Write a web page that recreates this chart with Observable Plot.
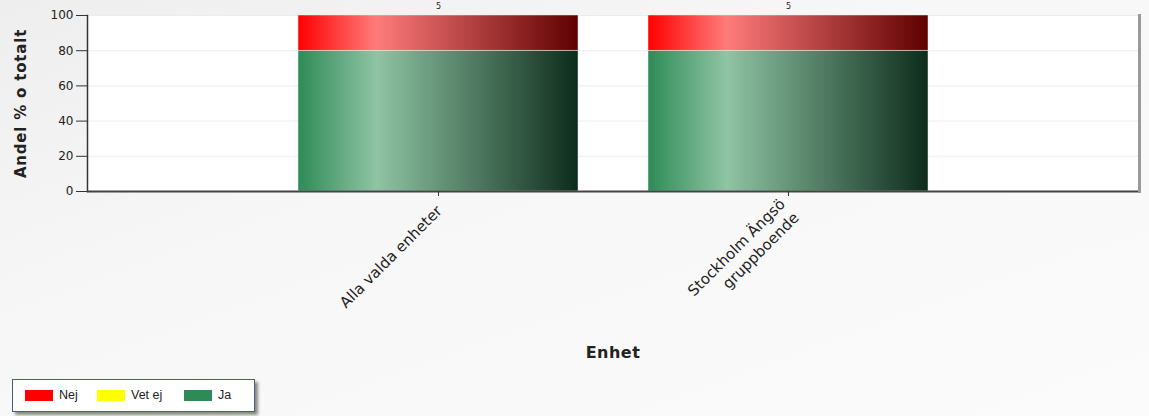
<!DOCTYPE html>
<html><head><meta charset="utf-8">
<script src="https://cdn.jsdelivr.net/npm/d3@7"></script>
<script src="https://cdn.jsdelivr.net/npm/@observablehq/plot@0.6"></script>
<style>
html,body{margin:0;padding:0;}
#wrap{position:relative;width:1149px;height:416px;overflow:hidden;
  background:linear-gradient(160deg,#eeeeee 0%,#f7f7f7 40%,#fbfbfb 100%);}
#chart{position:absolute;left:0;top:0;}
#legend{position:absolute;left:12px;top:379px;width:241px;height:31px;background:#fff;
  border:1px solid #4a5f80;box-shadow:3px 3px 3px #888;font-family:"Liberation Sans",Arial,sans-serif;font-size:12.5px;color:#222;}
.li{position:absolute;top:9px;height:13px;line-height:13px;}
.sw{position:absolute;top:10px;width:28px;height:11px;}
</style></head>
<body><div id="wrap"><div id="chart"></div><div id="legend"></div></div>
<script>
const categories = ["Alla valda enheter", "Stockholm Ängsö\ngruppboende"];
const seriesNames = ["Ja", "Vet ej", "Nej"];
const jaValues = [80, 80];
const vetEjValues = [0, 0];
const nejValues = [20, 20];
const counts = [5, 5];
const yTicks = [0, 20, 40, 60, 80, 100];
const legendNames = ["Nej", "Vet ej", "Ja"];
const legendColors = ["#ff0000", "#ffff00", "#2e8b57"];

const seriesValues = {"Ja": jaValues, "Vet ej": vetEjValues, "Nej": nejValues};
const rows = [];
for (const s of seriesNames) categories.forEach((c, i) => rows.push({cat: c, serie: s, value: seriesValues[s][i]}));
const countRows = categories.map((c, i) => ({cat: c, n: counts[i]}));

function defs() {
  const ns = "http://www.w3.org/2000/svg";
  const d = document.createElementNS(ns, "defs");
  const grads = {
    gJa: [["0%", "#2e8b57"], ["28%", "#8fc4a4"], ["100%", "#0d2c1b"]],
    gVet: [["0%", "#ffff00"], ["28%", "#ffff99"], ["100%", "#606000"]],
    gNej: [["0%", "#ff0000"], ["28%", "#ff7b7b"], ["100%", "#5e0000"]]
  };
  for (const [id, stops] of Object.entries(grads)) {
    const g = document.createElementNS(ns, "linearGradient");
    g.setAttribute("id", id); g.setAttribute("x1", "0"); g.setAttribute("x2", "1");
    g.setAttribute("y1", "0"); g.setAttribute("y2", "0");
    for (const [o, c] of stops) {
      const s = document.createElementNS(ns, "stop");
      s.setAttribute("offset", o); s.setAttribute("stop-color", c); g.appendChild(s);
    }
    d.appendChild(g);
  }
  return d;
}

const chart = Plot.plot({
  width: 1149, height: 376,
  marginLeft: 87, marginRight: 11, marginTop: 15, marginBottom: 185,
  style: {background: "transparent", fontFamily: "DejaVu Sans, sans-serif", color: "#222"},
  x: {domain: categories, paddingInner: 0.2, paddingOuter: 0.6, label: null},
  y: {domain: [0, 100], label: null},
  color: {domain: seriesNames, range: ["url(#gJa)", "url(#gVet)", "url(#gNej)"]},
  marks: [
    defs,
    Plot.frame({fill: "white"}),
    Plot.gridY(yTicks, {stroke: "#ececec", strokeOpacity: 1}),
    Plot.barY(rows, {x: "cat", y: "value", fill: "serie", stroke: "#e9e9e9", strokeWidth: 0.5}),
    Plot.text(countRows, {x: "cat", y: 100, text: d => String(d.n), dy: -9, fontSize: 8, fill: "#222"}),
    Plot.frame({anchor: "right", stroke: "#9a9a9a", strokeWidth: 3, dx: 1}),
    Plot.frame({anchor: "left", stroke: "#333", strokeWidth: 1.5}),
    Plot.ruleY([0], {stroke: "#444", strokeWidth: 2}),
    Plot.axisY({ticks: yTicks, tickSize: 11, tickPadding: 3, fontSize: 12, stroke: "#333",
      label: "Andel % o totalt", labelAnchor: "center", labelOffset: 72, labelArrow: "none"}),
    Plot.axisX({tickSize: 5, tickPadding: 11, tickRotate: -45, fontSize: 15, lineHeight: 1.3, stroke: "#333",
      label: "Enhet", labelAnchor: "center", labelOffset: 166, labelArrow: "none"})
  ]
});
document.getElementById("chart").appendChild(chart);

// bold axis labels
chart.querySelectorAll("g[aria-label='y-axis label']").forEach(e => {
  e.setAttribute("font-weight", "bold"); e.setAttribute("font-size", "15"); e.setAttribute("letter-spacing", "0.8");
});
chart.querySelectorAll("g[aria-label='x-axis label']").forEach(e => {
  e.setAttribute("font-weight", "bold"); e.setAttribute("font-size", "16"); e.setAttribute("letter-spacing", "0.5");
});

const legend = document.getElementById("legend");
const xs = [[12, 46], [84, 118], [171, 205]];
legendNames.forEach((n, i) => {
  const sw = document.createElement("div"); sw.className = "sw";
  sw.style.left = xs[i][0] + "px"; sw.style.background = legendColors[i]; legend.appendChild(sw);
  const t = document.createElement("div"); t.className = "li";
  t.style.left = xs[i][1] + "px"; t.textContent = n; legend.appendChild(t);
});
</script>
</body></html>
